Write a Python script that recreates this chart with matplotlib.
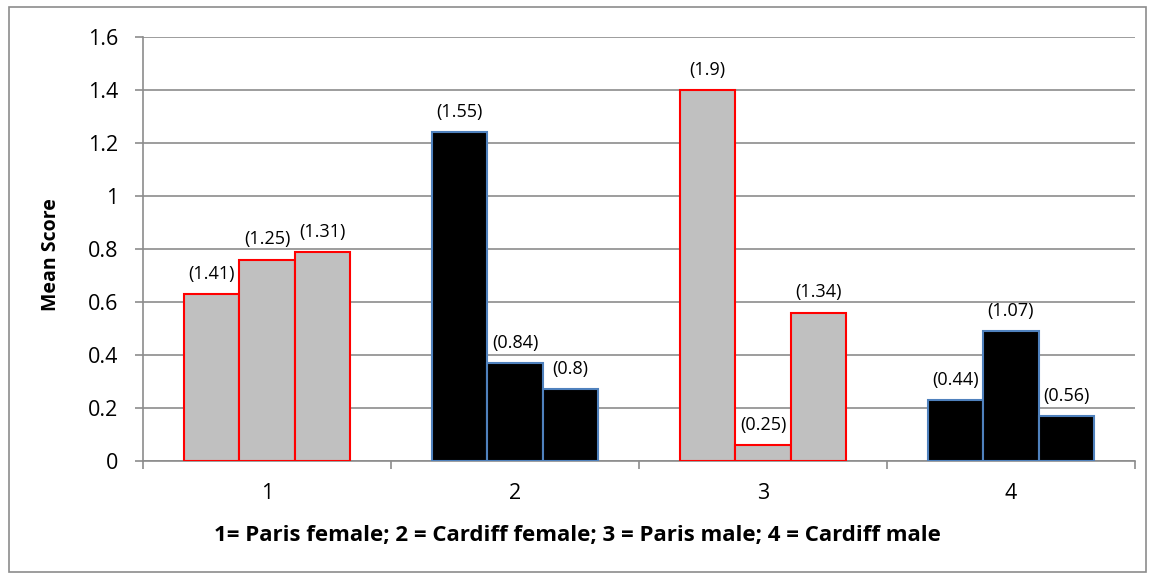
import numpy as np
import matplotlib.pyplot as plt
from matplotlib.patches import Rectangle

plt.rcParams['font.family'] = ['Open Sans', 'DejaVu Sans']

groups = ['1', '2', '3', '4']
means = [[0.63, 0.76, 0.79],
         [1.24, 0.37, 0.27],
         [1.40, 0.06, 0.56],
         [0.23, 0.49, 0.17]]
sds = [['(1.41)', '(1.25)', '(1.31)'],
       ['(1.55)', '(0.84)', '(0.8)'],
       ['(1.9)', '(0.25)', '(1.34)'],
       ['(0.44)', '(1.07)', '(0.56)']]
face = ['#c0c0c0', 'black', '#c0c0c0', 'black']
edge = ['red', '#4f81bd', 'red', '#4f81bd']

fig = plt.figure(figsize=(11.55, 5.79), dpi=100)
fig.patches.append(Rectangle((0.008, 0.012), 0.984, 0.976, transform=fig.transFigure,
                             fill=False, edgecolor='#8c8c8c', linewidth=1.2))
ax = fig.add_axes([143/1155, 1 - 461/579, 992/1155, 424/579])

w = 0.223
for i, vals in enumerate(means):
    for j, v in enumerate(vals):
        x = i + (j - 1) * w
        ax.bar(x, v, width=w, color=face[i], edgecolor=edge[i], linewidth=1.5, zorder=3)
        ax.annotate(sds[i][j], (x, v), xytext=(0, 8), textcoords='offset points',
                    ha='center', va='bottom', fontsize=13)

ax.set_xlim(-0.5, 3.5)
ax.set_ylim(0, 1.6)
ax.set_yticks(np.arange(0, 1.61, 0.2))
ax.set_yticklabels(['0', '0.2', '0.4', '0.6', '0.8', '1', '1.2', '1.4', '1.6'])
ax.set_xticks(range(4))
ax.set_xticklabels(groups)
ax.set_xticks(np.arange(-0.5, 3.6, 1), minor=True)
ax.tick_params(axis='x', which='major', length=0, labelsize=15.5, pad=16)
ax.tick_params(axis='x', which='minor', length=6, color='#8c8c8c', width=1.2)
ax.tick_params(axis='y', length=6, color='#8c8c8c', width=1.2, labelsize=15.5, pad=12)
ax.grid(axis='y', color='#8c8c8c', linewidth=1.2, zorder=0)
for s in ['top', 'right']:
    ax.spines[s].set_visible(False)
for s in ['left', 'bottom']:
    ax.spines[s].set_color('#8c8c8c')
    ax.spines[s].set_linewidth(1.2)

fig.text(51/1155, 1 - 255/579, 'Mean Score', rotation=90, ha='center', va='center',
         fontsize=14, fontweight='bold')
fig.text(0.5, 1 - 535/579,
         '1= Paris female; 2 = Cardiff female; 3 = Paris male; 4 = Cardiff male',
         ha='center', va='center', fontsize=16, fontweight='bold')

fig.savefig('out.png', dpi=100)
